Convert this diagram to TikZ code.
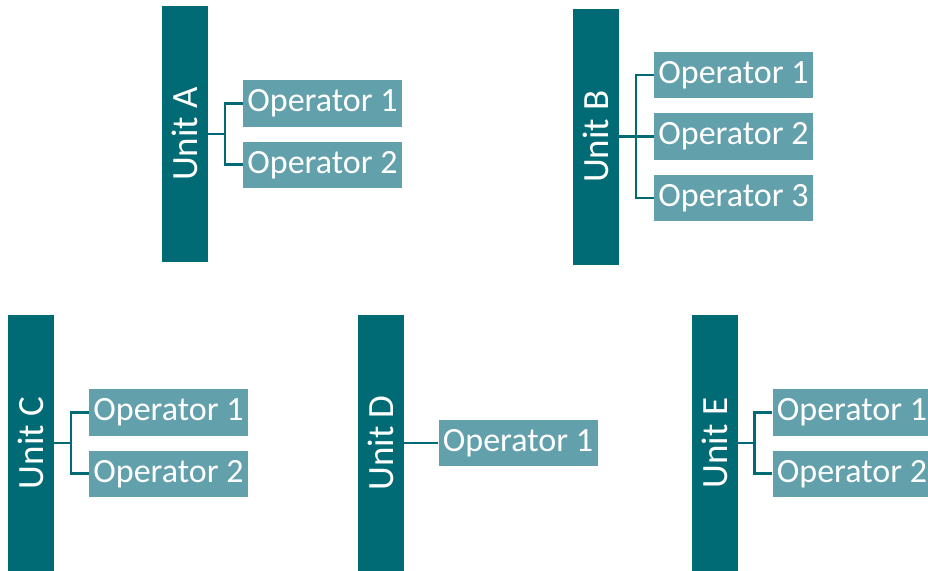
\documentclass[tikz,border=0pt]{standalone}
\usepackage{fontspec}
\setmainfont{Carlito}
\usepackage{tikz}
\definecolor{unitteal}{RGB}{0,106,117}
\definecolor{opteal}{RGB}{98,160,172}
\usetikzlibrary{positioning,calc}

\begin{document}
\begin{tikzpicture}[x=1pt, y=-1pt, unit/.style = {fill=unitteal, text=white, rotate=90, minimum width=256pt, minimum height=46pt, inner sep=0pt, font=\fontsize{37}{42}\selectfont}, oper/.style = {fill=opteal, text=white, minimum width=159pt, minimum height=46.5pt, inner sep=0pt, font=\fontsize{34}{39}\selectfont}, link/.style = {draw=unitteal, line width=2.8pt}]
                \useasboundingbox (0,0) rectangle (928,570);
                \foreach \u/\x/\y/\n in {A/185/134/2, B/596/136.5/3, C/31/443/2, D/380.5/443/1, E/714.5/443/2}
                {%
                    \node[unit] (u\u) at (\x, \y) {Unit \u};
                    \coordinate (j\u) at (\x + 40, \y);
                    \draw[link] (u\u) -- (j\u);
                    \foreach \k in {1,...,\n}
                    {%
                        \node[oper] (o\u\k) at (\x + 137.5, \y + 61.5*\k - 30.75*\n - 30.75) {Operator \k};
                        \draw[link] (j\u) |- (o\u\k.west);
                    };
                };
        \end{tikzpicture}
\end{document}
